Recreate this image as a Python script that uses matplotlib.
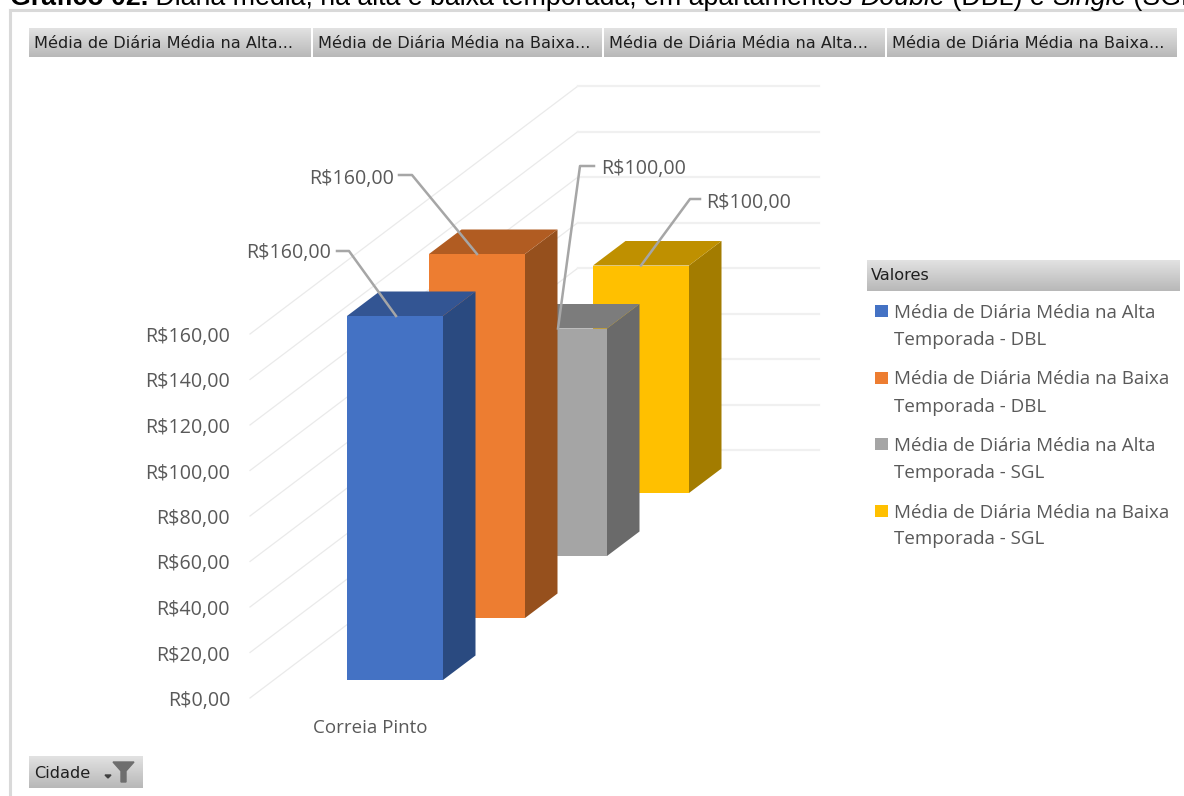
import numpy as np
import matplotlib
matplotlib.use("Agg")
import matplotlib.pyplot as plt

# data
series_names = ["Média de Diária Média na Alta Temporada - DBL",
                "Média de Diária Média na Baixa Temporada - DBL",
                "Média de Diária Média na Alta Temporada - SGL",
                "Média de Diária Média na Baixa Temporada - SGL"]
values = [160, 160, 100, 100]
value_labels = ["R$160,00", "R$160,00", "R$100,00", "R$100,00"]
category = "Correia Pinto"
ticks = [0, 20, 40, 60, 80, 100, 120, 140, 160]
tick_labels = ["R$0,00", "R$20,00", "R$40,00", "R$60,00", "R$80,00",
               "R$100,00", "R$120,00", "R$140,00", "R$160,00"]
button_labels = ["Média de Diária Média na Alta...", "Média de Diária Média na Baixa...",
                 "Média de Diária Média na Alta...", "Média de Diária Média na Baixa..."]

front = ["#4472C4", "#ED7D31", "#A5A5A5", "#FFC000"]
top = ["#335593", "#B15C22", "#7C7C7C", "#BF9000"]
side = ["#2A4A80", "#96501D", "#6A6A6A", "#A37C00"]

W, H = 1184, 796
PX_PER_VALUE = 2.275
ZERO_Y = 698
TEXT_DROP = 3 / PX_PER_VALUE
chart_font = ["Open Sans", "DejaVu Sans"]
btn_font = ["DejaVu Sans"]
text_col = "#595959"

fig = plt.figure(figsize=(W / 100, H / 100), dpi=100)

# pixel axes for the pivot chart furniture
px = fig.add_axes([0, 0, 1, 1])
px.set_xlim(0, W)
px.set_ylim(H, 0)
px.axis("off")

# value axes: x in pixels, y in R$
ax = fig.add_axes([0, 0, 1, 1], facecolor="none")
ax.set_xlim(0, W)
ax.set_ylim((ZERO_Y - H) / PX_PER_VALUE, ZERO_Y / PX_PER_VALUE)
ax.axis("off")

grad = np.linspace(0, 1, 64).reshape(-1, 1)
btn_cmap = matplotlib.colors.LinearSegmentedColormap.from_list("btn", ["#E2E2E2", "#B8B8B8"])


def button(x0, x1, y0, y1):
    px.imshow(grad, extent=(x0, x1, y1, y0), aspect="auto", cmap=btn_cmap, vmin=0, vmax=1, zorder=2)


# clipped title, built up from pieces
title_parts = [("Gráfico 02.", "bold", "normal"),
               (" Diária média, na alta e baixa temporada, em apartamentos ", "normal", "normal"),
               ("Double", "normal", "italic"),
               (" (DBL) e ", "normal", "normal"),
               ("Single", "normal", "italic"),
               (" (SGL)", "normal", "normal")]
tx = 10
renderer = fig.canvas.get_renderer()
for part, weight, style in title_parts:
    label = part.replace(" ", "\u00a0")
    t = px.text(tx, 5, label, family="Liberation Sans", fontsize=19.3, weight=weight, style=style,
                color="black", va="baseline", ha="left")
    tx += t.get_window_extent(renderer).width

# chart area border
px.plot([10, 10], [H, 10], color="#D9D9D9", lw=2.2, zorder=1)
px.plot([10, W], [10, 10], color="#D9D9D9", lw=2.2, zorder=1)

# field buttons
btn_x = [(29, 311), (313, 602), (604, 885), (887, 1177)]
for (x0, x1), lab in zip(btn_x, button_labels):
    button(x0, x1, 28, 57)
    px.text(x0 + 5, 43, lab, family=btn_font, fontsize=11.6, color="#1F1F1F", va="center", ha="left", zorder=3)

button(867, W - 4, 260, 291)
px.text(871, 276, "Valores", family=btn_font, fontsize=11.6, color="#1F1F1F", va="center", ha="left", zorder=3)
button(29, 143, 756, 788)
px.text(34, 773, "Cidade", family=btn_font, fontsize=11.6, color="#1F1F1F", va="center", ha="left", zorder=3)
px.fill([105, 111, 108], [775, 775, 778], color="#404040", zorder=3)
px.fill([113, 134, 126, 126, 121, 121], [762, 762, 771, 782, 782, 771], color="#6E6E6E", zorder=3)
px.set_xlim(0, W)
px.set_ylim(H, 0)

# gridlines: slanted side wall, then flat back wall
wall_x = [250, 578, 819]
wall_rise = 248 / PX_PER_VALUE
for v, lab in zip(ticks, tick_labels):
    ax.plot(wall_x[:2], [v, v + wall_rise], color="#EAEAEA", lw=0.9, zorder=1)
    ax.plot(wall_x[1:], [v + wall_rise, v + wall_rise], color="#F0F0F0", lw=1.6, zorder=1)
    ax.text(230, v - TEXT_DROP, lab, family=chart_font, fontsize=14.1, color=text_col, ha="right", va="center")

# 3D columns, back one first
bar_left = [347, 429, 511, 593]
bar_w = 96
floor = [(ZERO_Y - y) / PX_PER_VALUE for y in (680, 618, 556, 493)]
dx, dv = 32.5, 24.5 / PX_PER_VALUE
for i in [3, 2, 1, 0]:
    x0, x1 = bar_left[i], bar_left[i] + bar_w
    b, h = floor[i], floor[i] + values[i]
    z = 5 + (3 - i) * 3
    ax.fill([x1, x1 + dx, x1 + dx, x1], [b, b + dv, h + dv, h], color=side[i], lw=0, zorder=z)
    ax.fill([x0, x1, x1 + dx, x0 + dx], [h, h, h + dv, h + dv], color=top[i], lw=0, zorder=z)
    ax.bar(x0, values[i], width=bar_w, bottom=b, align="edge", color=front[i], lw=0, zorder=z + 1)

# data labels with leader lines
leader_foot = [396, 477, 558, 641]
leader_elbow = [(349, 251), (412, 175), (580, 166), (690, 199)]
leader_end = [(337, 251), (399, 175), (594, 166), (700, 199)]
label_pos = [(331, 250), (394, 176), (601, 166), (706, 200)]
label_ha = ["right", "right", "left", "left"]
for i in range(4):
    h = floor[i] + values[i]
    ys = [h, (ZERO_Y - leader_elbow[i][1]) / PX_PER_VALUE, (ZERO_Y - leader_end[i][1]) / PX_PER_VALUE]
    ax.plot([leader_foot[i], leader_elbow[i][0], leader_end[i][0]], ys, color="#A6A6A6", lw=1.8, zorder=30)
    ax.text(label_pos[i][0], (ZERO_Y - label_pos[i][1]) / PX_PER_VALUE - TEXT_DROP, value_labels[i],
            family=chart_font, fontsize=14.1, color=text_col, ha=label_ha[i], va="center", zorder=31)

ax.text(370, (ZERO_Y - 725) / PX_PER_VALUE - TEXT_DROP, category, family=chart_font, fontsize=13.5,
        color=text_col, ha="center", va="center")

# legend, wrapped like the pivot chart does it
for i, name in enumerate(series_names):
    y = 311 + i * 66.5
    px.fill([875, 888, 888, 875], [y - 6, y - 6, y + 6, y + 6], color=front[i], lw=0, zorder=3)
    first, second = name.split(" Temporada")
    px.text(894, y + 2, first, family=chart_font, fontsize=13.5, color=text_col, va="center", ha="left", zorder=3)
    px.text(894, y + 29, "Temporada" + second, family=chart_font, fontsize=13.5, color=text_col,
            va="center", ha="left", zorder=3)

fig.savefig("out.png", dpi=100, facecolor="white")
